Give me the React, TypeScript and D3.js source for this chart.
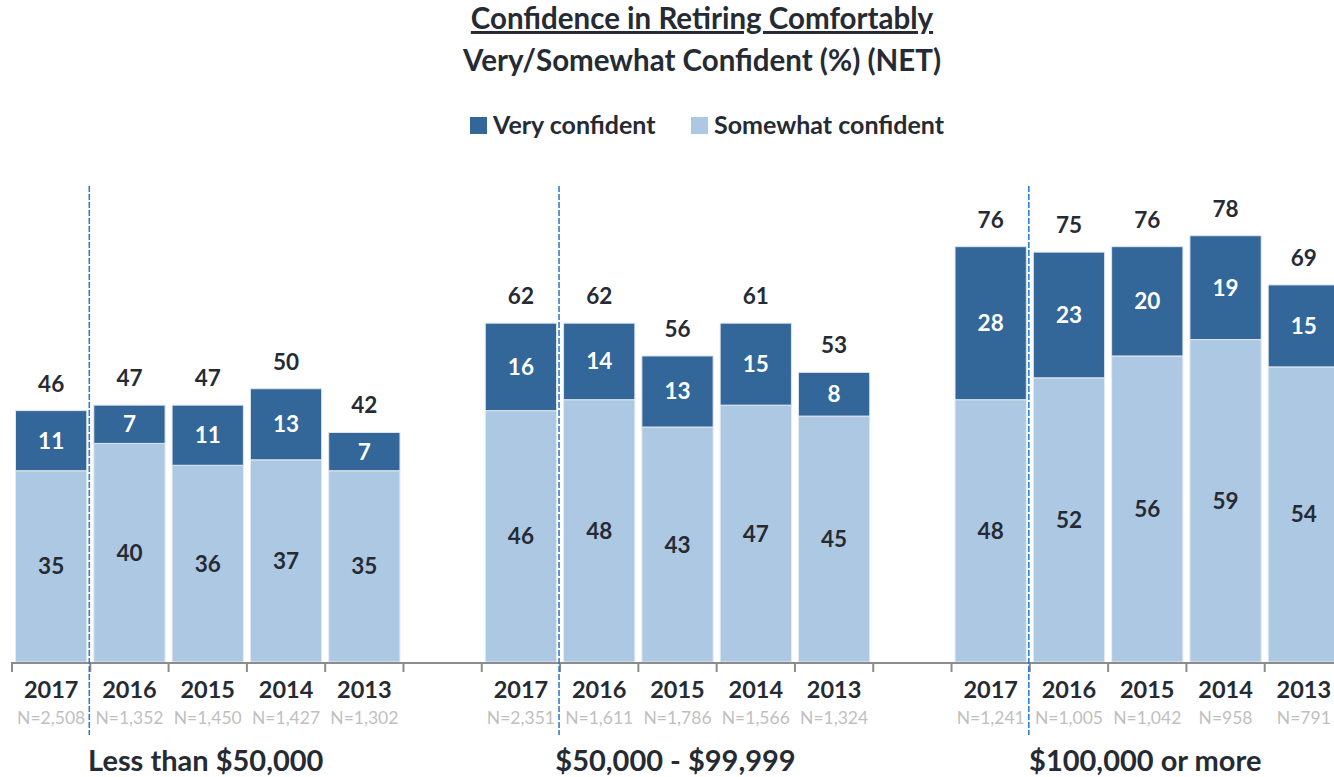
import React from "react";
import * as d3 from "d3";

const groups = ["Less than $50,000", "$50,000 - $99,999", "$100,000 or more"];
const years = ["2017", "2016", "2015", "2014", "2013"];
const veryConfident = [
  [11, 7, 11, 13, 7],
  [16, 14, 13, 15, 8],
  [28, 23, 20, 19, 15],
];
const somewhatConfident = [
  [35, 40, 36, 37, 35],
  [46, 48, 43, 47, 45],
  [48, 52, 56, 59, 54],
];
const netTotals = [
  [46, 47, 47, 50, 42],
  [62, 62, 56, 61, 53],
  [76, 75, 76, 78, 69],
];
const sampleSizes = [
  ["N=2,508", "N=1,352", "N=1,450", "N=1,427", "N=1,302"],
  ["N=2,351", "N=1,611", "N=1,786", "N=1,566", "N=1,324"],
  ["N=1,241", "N=1,005", "N=1,042", "N=958", "N=791"],
];
const seriesNames = ["Very confident", "Somewhat confident"];

const W = 1334;
const H = 777;
const DARK = "#336699";
const LIGHT = "#adc8e3";
const TEXT = "#262b33";
const GRAY = "#bfbfbf";
const FONT = "Lato, 'Open Sans', sans-serif";

export default function App() {
  // slots: 5 bars + 1 gap per group
  const slots: string[] = [];
  groups.forEach((g, gi) => {
    years.forEach((y) => slots.push(`${gi}-${y}`));
    if (gi < groups.length - 1) slots.push(`gap-${gi}`);
  });
  const x = d3.scaleBand<string>().domain(slots).range([12, 1343]).paddingInner(0).paddingOuter(0);
  const y = d3.scaleLinear().domain([0, 100]).range([662, 115.5]);
  const bw = x.bandwidth();
  const pad = 3.5;
  const baseY = y(0);

  const ticks: number[] = [];
  slots.forEach((s) => ticks.push(x(s)!));

  return (
    <svg width={W} height={H} style={{ position: "absolute", left: 0, top: 0, background: "#fff" }} fontFamily={FONT}>
      {/* Title */}
      <text x={702} y={29} textAnchor="middle" fontSize={29.5} fontWeight={700} fill={TEXT} textDecoration="underline">
        Confidence in Retiring Comfortably
      </text>
      <text x={702} y={71} textAnchor="middle" fontSize={29.5} fontWeight={700} fill={TEXT}>
        Very/Somewhat Confident (%) (NET)
      </text>
      {/* Legend */}
      <g>
        <rect x={470} y={117} width={17} height={17} fill={DARK} />
        <text x={493} y={134} fontSize={25} fontWeight={700} fill={TEXT}>{seriesNames[0]}</text>
        <rect x={691} y={117} width={17} height={17} fill={LIGHT} />
        <text x={714} y={134} fontSize={25} fontWeight={700} fill={TEXT}>{seriesNames[1]}</text>
      </g>

      {/* Bars */}
      {groups.map((g, gi) =>
        years.map((yr, yi) => {
          const key = `${gi}-${yr}`;
          const x0 = x(key)! + pad;
          const w = bw - 2 * pad;
          const cx = x0 + w / 2;
          const s = somewhatConfident[gi][yi];
          const v = veryConfident[gi][yi];
          const ySomeTop = y(s);
          const yVeryTop = y(s + v);
          return (
            <g key={key}>
              <rect x={x0} y={ySomeTop} width={w} height={baseY - ySomeTop} fill={LIGHT} stroke="#e4ecf5" strokeWidth={1} />
              <rect x={x0} y={yVeryTop} width={w} height={ySomeTop - yVeryTop} fill={DARK} stroke="#dfe6ee" strokeWidth={1} />
              <text x={cx} y={(baseY + ySomeTop) / 2 + 8} textAnchor="middle" fontSize={22.5} fontWeight={700} fill={TEXT}>{s}</text>
              <text x={cx} y={(ySomeTop + yVeryTop) / 2 + 8} textAnchor="middle" fontSize={22.5} fontWeight={700} fill="#ffffff">{v}</text>
              <text x={cx} y={yVeryTop - 19} textAnchor="middle" fontSize={22.5} fontWeight={700} fill={TEXT}>{netTotals[gi][yi]}</text>
              <text x={cx} y={698} textAnchor="middle" fontSize={23.5} fontWeight={700} fill={TEXT}>{yr}</text>
              <text x={cx} y={724} textAnchor="middle" fontSize={17.5} fill={GRAY}>{sampleSizes[gi][yi]}</text>
            </g>
          );
        })
      )}

      {/* Axis */}
      <line x1={12} x2={W} y1={baseY + 1} y2={baseY + 1} stroke="#8c8c8c" strokeWidth={2} />
      {ticks.map((t, i) => (
        <line key={i} x1={t} x2={t} y1={baseY} y2={baseY + 10} stroke="#8c8c8c" strokeWidth={2} />
      ))}

      {/* Dashed separators */}
      {groups.map((g, gi) => {
        const xs = x(`${gi}-${years[1]}`)! - 1;
        return (
          <line key={g} x1={xs} x2={xs} y1={186} y2={735} stroke="#1f78d1" strokeWidth={1.5} strokeDasharray="6,2" />
        );
      })}

      {/* Group labels */}
      {groups.map((g, gi) => {
        const a = x(`${gi}-${years[0]}`)!;
        const b = x(`${gi}-${years[4]}`)! + bw;
        return (
          <text key={g} x={(a + b) / 2 - 2} y={771} textAnchor="middle" fontSize={29} fontWeight={700} fill={TEXT}>{g}</text>
        );
      })}
    </svg>
  );
}
